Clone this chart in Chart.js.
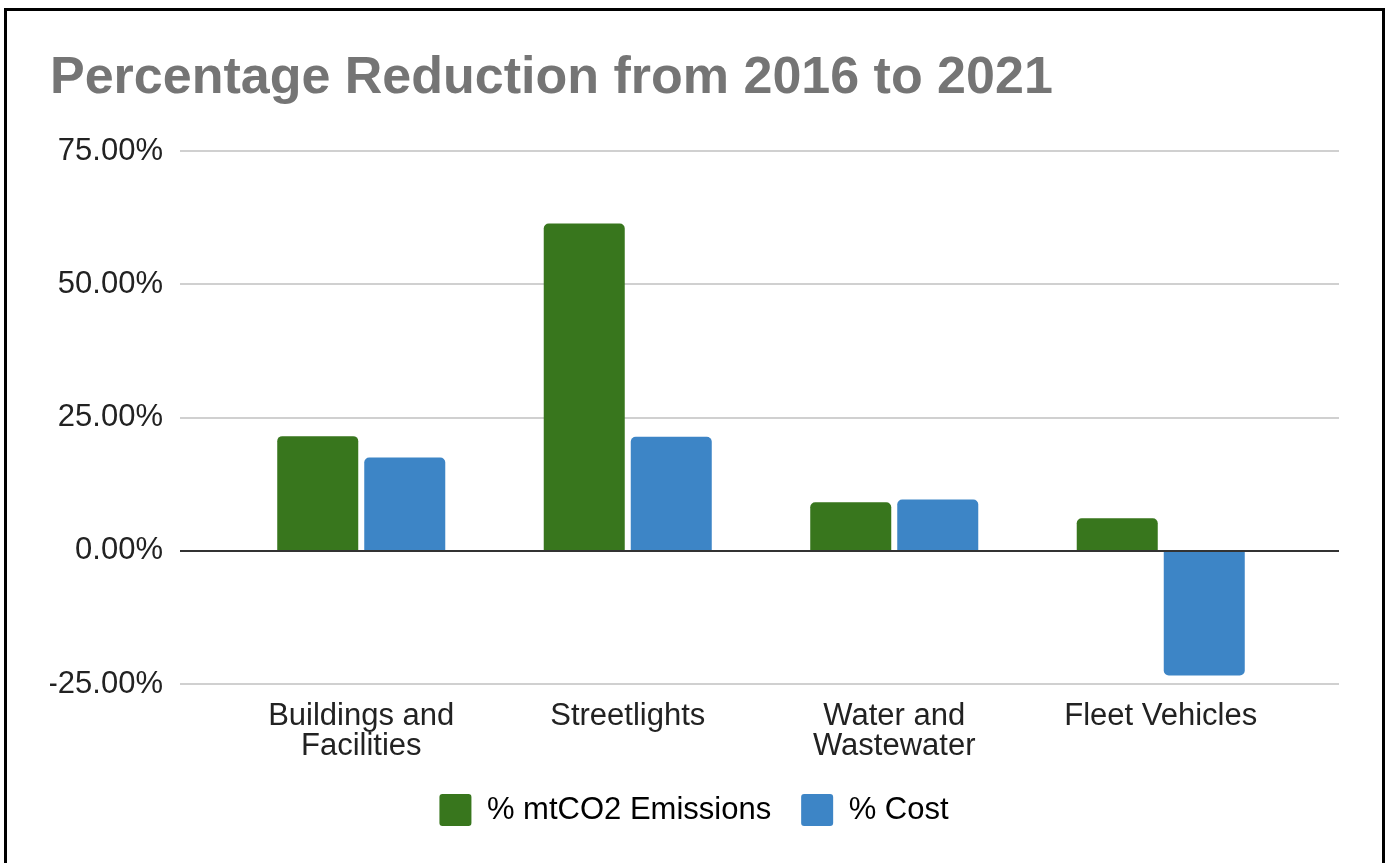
<!DOCTYPE html>
<html>
<head>
<meta charset="utf-8">
<script src="https://cdn.jsdelivr.net/npm/chart.js@4/dist/chart.umd.min.js"></script>
<style>
  html, body { margin: 0; padding: 0; background: #fff; overflow: hidden; }
  #frame {
    position: absolute;
    left: 4px;
    top: 8px;
    width: 1375px;
    height: 860px;
    border: 3px solid #000;
    background: #fff;
  }
  #chart { display: block; }
</style>
</head>
<body>
<div id="frame"><canvas id="chart" width="1375" height="860"></canvas></div>
<script>
// reduction in percent, 2016 -> 2021
const categories = [
  ["Buildings and", "Facilities"],
  ["Streetlights"],
  ["Water and", "Wastewater"],
  ["Fleet Vehicles"]
];
const emissionsPct = [21.5, 61.4, 9.1, 6.1];
const costPct = [17.5, 21.4, 9.6, -23.4];
const yTicks = [-25, 0, 25, 50, 75];

const GREEN = "#38761d";
const BLUE = "#3d85c6";
const FONT = "'Liberation Sans', Arial, Helvetica, sans-serif";

// horizontal grid lines run a bit wider than the bar area
const wideGrid = {
  id: "wideGrid",
  beforeDatasetsDraw(chart) {
    const { ctx, chartArea, scales } = chart;
    ctx.save();
    ctx.lineWidth = 2;
    ctx.strokeStyle = "#d0d0d0";
    for (const t of scales.y.ticks) {
      if (t.value === 0) continue;
      const y = Math.round(scales.y.getPixelForValue(t.value));
      ctx.beginPath();
      ctx.moveTo(chartArea.left - 48, y);
      ctx.lineTo(chartArea.right + 45, y);
      ctx.stroke();
    }
    ctx.restore();
  },
  afterDatasetsDraw(chart) {
    const { ctx, chartArea, scales } = chart;
    const y = Math.round(scales.y.getPixelForValue(0));
    ctx.save();
    ctx.lineWidth = 2;
    ctx.strokeStyle = "#333";
    ctx.beginPath();
    ctx.moveTo(chartArea.left - 48, y);
    ctx.lineTo(chartArea.right + 45, y);
    ctx.stroke();
    ctx.restore();
  }
};

function ds(label, data, color) {
  return {
    label,
    data,
    yAxisID: "y",
    backgroundColor: color,
    borderColor: color,
    borderWidth: 0,
    borderRadius: 5,
    borderSkipped: "start",
    categoryPercentage: 0.653,
    barPercentage: 0.931
  };
}

new Chart(document.getElementById("chart").getContext("2d"), {
  type: "bar",
  data: {
    labels: categories,
    datasets: [
      ds("% mtCO2 Emissions", emissionsPct, GREEN),
      ds("% Cost", costPct, BLUE)
    ]
  },
  options: {
    responsive: false,
    animation: false,
    devicePixelRatio: 1,
    layout: { padding: { left: 43, right: 44, top: 0, bottom: 35 } },
    plugins: {
      title: {
        display: true,
        text: "Percentage Reduction from 2016 to 2021",
        align: "start",
        color: "#757575",
        font: { family: FONT, size: 52, weight: "bold" },
        padding: { top: 36, bottom: 41.6 }
      },
      legend: {
        position: "bottom",
        labels: {
          boxWidth: 32,
          boxHeight: 32,
          padding: 30,
          color: "#222",
          font: { family: FONT, size: 31 },
          generateLabels(chart) {
            return chart.data.datasets.map((d, i) => ({
              text: d.label,
              fillStyle: d.backgroundColor,
              strokeStyle: d.backgroundColor,
              lineWidth: 0,
              borderRadius: 3,
              datasetIndex: i,
              hidden: false
            }));
          }
        }
      },
      tooltip: { enabled: false }
    },
    scales: {
      x: {
        afterFit(scale) { scale.height = 80; },
        grid: { display: false, drawTicks: false },
        border: { display: false },
        ticks: {
          color: "#222",
          padding: 17,
          maxRotation: 0,
          autoSkip: false,
          font: { family: FONT, size: 31, lineHeight: 0.97 }
        }
      },
      y: {
        min: -25,
        max: 75,
        afterFit(scale) { scale.width = 178; },
        afterBuildTicks(scale) { scale.ticks = yTicks.map(v => ({ value: v })); },
        grid: { display: false, drawTicks: false },
        border: { display: false },
        ticks: {
          color: "#222",
          padding: 65,
          font: { family: FONT, size: 31 },
          callback: v => v.toFixed(2) + "%"
        }
      },
      // empty right-hand gutter so the legend centres like the plot frame
      yGutter: {
        position: "right",
        afterFit(scale) { scale.width = 44; },
        grid: { display: false, drawTicks: false },
        border: { display: false },
        ticks: { display: false }
      }
    }
  },
  plugins: [wideGrid]
});
</script>
</body>
</html>
